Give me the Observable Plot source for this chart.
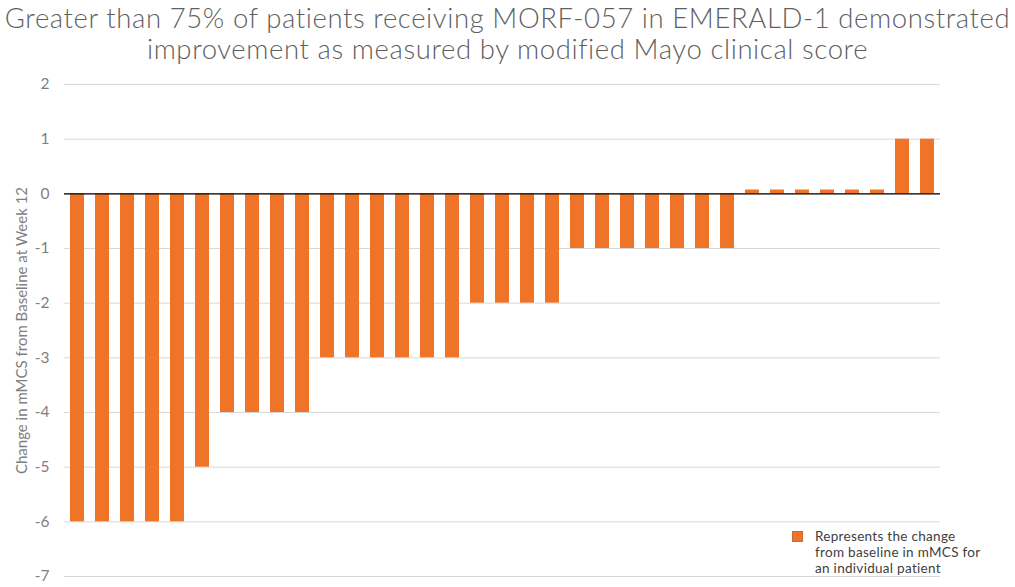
<!DOCTYPE html>
<html>
<head>
<meta charset="utf-8">
<script src="https://cdn.jsdelivr.net/npm/d3@7"></script>
<script src="https://cdn.jsdelivr.net/npm/@observablehq/plot@0.6"></script>
<style>
  html, body { margin: 0; padding: 0; background: #fff; }
  #wrap { position: relative; width: 1015px; height: 587px; overflow: hidden; }
  #title { height: 75px; text-align: center; font-family: Lato, "Open Sans", sans-serif; color: #5f5f5f; font-weight: 300;
           font-size: 27.5px; line-height: 31px; padding-top: 2px; box-sizing: border-box; letter-spacing: 0.6px; }
  #legend { position: absolute; left: 792px; top: 528px; font-family: Lato, sans-serif; font-size: 13.5px;
            line-height: 16px; color: #404040; letter-spacing: 0.3px; }
  #legend .sw { position: absolute; left: 0; top: 3px; width: 11px; height: 11px; background: #F07427; border: 1px solid #c86a3a; box-sizing: border-box; }
  #legend .tx { margin-left: 23px; }
</style>
</head>
<body>
<div id="wrap">
  <div id="title">Greater than 75% of patients receiving MORF-057 in EMERALD-1 demonstrated<br>improvement as measured by modified Mayo clinical score</div>
  <div id="chart"></div>
  <div id="legend"><div class="sw"></div><div class="tx">Represents the change<br>from baseline in mMCS for<br>an individual patient</div></div>
</div>
<script>
const patients = d3.range(1, 36);
const changes = [
  -6, -6, -6, -6, -6,
  -5,
  -4, -4, -4, -4,
  -3, -3, -3, -3, -3, -3,
  -2, -2, -2, -2,
  -1, -1, -1, -1, -1, -1, -1,
  0.07, 0.07, 0.07, 0.07, 0.07, 0.07,
  1, 1
];
const yTicks = [2, 1, 0, -1, -2, -3, -4, -5, -6, -7];
const yLabel = "Change in mMCS from Baseline at Week 12";
const data = patients.map((p, i) => ({patient: p, change: changes[i]}));

const chart = Plot.plot({
  width: 1015,
  height: 512,
  marginTop: 9,
  marginBottom: 11,
  marginLeft: 64,
  marginRight: 75,
  style: {fontFamily: "Lato, sans-serif", background: "#fff"},
  x: {type: "band", domain: patients, paddingInner: 0.44, paddingOuter: 0.22, axis: null},
  y: {domain: [-7, 2], label: null},
  marks: [
    Plot.gridY(yTicks, {stroke: "#d9d9d9", strokeOpacity: 1, strokeWidth: 1}),
    Plot.axisY(yTicks, {tickSize: 0, tickPadding: 15, fontSize: 15.5, fill: "#7f7f7f", label: null, tickFormat: d => String(d)}),
    Plot.barY(data, {x: "patient", y: "change", fill: "#F07427"}),
    Plot.ruleY([0], {stroke: "#000", strokeWidth: 1.3}),
    Plot.text([yLabel], {
      frameAnchor: "left", dx: -42, rotate: -90, textAnchor: "middle", fontSize: 15, fill: "#7f7f7f",
      text: d => d, letterSpacing: "0.5px"
    })
  ]
});
document.getElementById("chart").appendChild(chart);
</script>
</body>
</html>
